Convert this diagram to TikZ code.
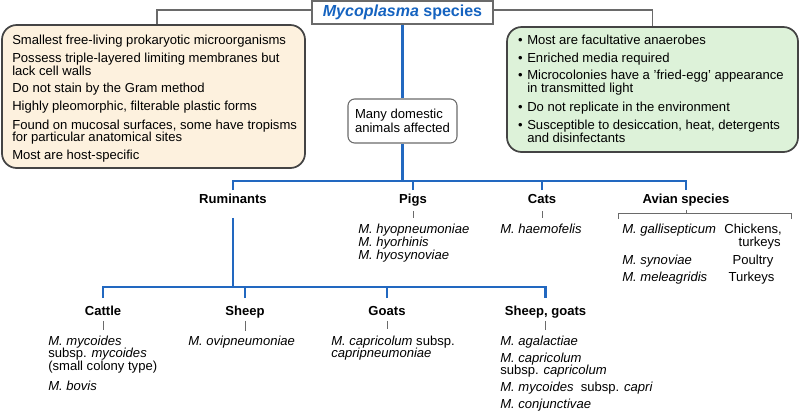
\documentclass[tikz,border=0pt]{standalone}
\usepackage{fontspec}
\setmainfont{Liberation Sans}
\definecolor{peach}{HTML}{FDF1DE}
\definecolor{mint}{HTML}{DDF2D9}
\definecolor{bluel}{HTML}{2268C0}
\definecolor{titleblue}{HTML}{1563C0}
\definecolor{boxedge}{HTML}{444444}
\definecolor{grayline}{HTML}{6A6A6A}
\begin{document}
\begin{tikzpicture}[x=0.75pt,y=-0.75pt,
  txt/.style={anchor=base west, inner sep=0pt, font=\fontsize{9.8}{12}\selectfont},
  txte/.style={anchor=base east, inner sep=0pt, font=\fontsize{9.8}{12}\selectfont},
  txtc/.style={anchor=base, inner sep=0pt, font=\fontsize{9.8}{12}\selectfont},
  bul/.style={anchor=base, inner sep=0pt, font=\fontsize{9.8}{12}\selectfont},
  hlabel/.style={anchor=base, inner sep=0pt, text height=9.75pt, text depth=5.25pt, font=\fontsize{9.8}{12}\selectfont\bfseries},
  llabel/.style={anchor=base, inner sep=0pt, text height=12.75pt, text depth=3.75pt, font=\fontsize{9.8}{12}\selectfont\bfseries},
  lbox/.style={draw=boxedge, line width=1.3pt, fill=peach, rounded corners=11pt},
  gbox/.style={draw=boxedge, line width=1.3pt, fill=mint, rounded corners=11pt},
  mbox/.style={draw=grayline, line width=0.8pt, fill=white, rounded corners=5pt, align=left, inner sep=0pt, font=\fontsize{9.8}{10.1}\selectfont},
  titlebox/.style={draw=grayline, line width=0.8pt, fill=white, inner sep=0pt, font=\fontsize{12}{14}\selectfont\bfseries, text=titleblue},
  bline/.style={draw=bluel, line width=1.6pt},
  gline/.style={draw=grayline, line width=0.8pt},
  tick/.style={draw=grayline, line width=0.6pt}]
\useasboundingbox (0,0) rectangle (800,412);

% boxes
\node[lbox, minimum width=227.25pt, minimum height=107.25pt] (leftbox) at (153.5,96.5) {};
\node[gbox, minimum width=218.25pt, minimum height=93.75pt] (rightbox) at (652.5,89.5) {};
\node[titlebox, minimum width=135.75pt, minimum height=17.25pt] (title) at (402.5,12.5) {\textit{Mycoplasma} species};
\node[mbox, minimum width=81.75pt, minimum height=33pt] (many) at (402.5,121) {Many domestic\\animals affected};

% gray connectors
\draw[gline] ([yshift=1.9pt]title.west) -| ([xshift=2.6pt]leftbox.north);
\draw[gline] ([yshift=1.9pt]title.east) -| (rightbox.north);

% left box text
\node[txt] (L1) at (12,44) {Smallest free-living prokaryotic microorganisms};
\node[txt] (L2) at (12,62) {Possess triple-layered limiting membranes but};
\node[txt] (L3) at (12,75) {lack cell walls};
\node[txt] (L4) at (12,92.5) {Do not stain by the Gram method};
\node[txt] (L5) at (12,110.5) {Highly pleomorphic, filterable plastic forms};
\node[txt] (L6) at (12,129) {Found on mucosal surfaces, some have tropisms};
\node[txt] (L7) at (12,141.5) {for particular anatomical sites};
\node[txt] (L8) at (12,159.5) {Most are host-specific};

% right box text
\node[bul] (B1) at (520.5,44) {•};
\node[bul] (B2) at (520.5,62) {•};
\node[bul] (B3) at (520.5,79.5) {•};
\node[bul] (B4) at (520.5,111) {•};
\node[bul] (B5) at (520.5,129) {•};
\node[txt] (R1) at (527,44) {Most are facultative anaerobes};
\node[txt] (R2) at (527,62) {Enriched media required};
\node[txt] (R3) at (527,79.5) {Microcolonies have a 'fried-egg' appearance};
\node[txt] (R4) at (527,92.5) {in transmitted light};
\node[txt] (R5) at (527,111) {Do not replicate in the environment};
\node[txt] (R6) at (527,129) {Susceptible to desiccation, heat, detergents};
\node[txt] (R7) at (527,142) {and disinfectants};

% upper labels
\node[hlabel, text depth=10.5pt] (rum) at (233,203.5) {Ruminants};
\node[hlabel] (pigs) at (413,203.5) {Pigs};
\node[hlabel] (cats) at (542,203.5) {Cats};
\node[hlabel, text depth=4.5pt] (avian) at (686,203.5) {Avian species};

% blue tree (upper)
\coordinate (bus) at (402.5,181);
\draw[bline] (title.south) -- (many.north);
\draw[bline] (many.south) -- (bus);
\draw[bline] (rum.north) |- (bus) -| (avian.north);
\draw[bline] (pigs.north) -- (pigs.north |- bus);
\draw[bline] (cats.north) -- (cats.north |- bus);

% lower labels
\node[llabel] (cattle) at (103,315.5) {Cattle};
\node[llabel] (sheep) at (245,315.5) {Sheep};
\node[llabel] (goats) at (387,315.5) {Goats};
\node[llabel] (sg) at (545.5,315.5) {Sheep, goats};

\coordinate (rbus) at (233,287);
\draw[bline] (rum.south) -- (rbus);
\draw[bline] (cattle.north) |- (rbus) -| (sg.north);
\draw[bline] (sheep.north) -- (sheep.north |- rbus);
\draw[bline] (goats.north) -- (goats.north |- rbus);

% small gray ticks
\coordinate (pigsT) at (413,218);
\coordinate (catsT) at (542,218);
\coordinate (cattleT) at (103,330);
\coordinate (sheepT) at (245,331);
\coordinate (goatsT) at (387,329);
\coordinate (sgT) at (545.5,330);
\draw[tick] (pigs.south) -- (pigsT);
\draw[tick] (cats.south) -- (catsT);
\draw[tick] (cattle.south) -- (cattleT);
\draw[tick] (sheep.south) -- (sheepT);
\draw[tick] (goats.south) -- (goatsT);
\draw[tick] (sg.south) -- (sgT);

% avian bracket
\coordinate (avB) at (686,213.3);
\coordinate (avL) at (618,218.5);
\coordinate (avR) at (791,218.5);
\draw[tick] (avian.south) -- (avB);
\draw[tick] (avL) -- (avL |- avB) -- (avR |- avB) -- (avR);

% pigs species
\node[txt] (P1) at (358,233) {\textit{M. hyopneumoniae}};
\node[txt] (P2) at (358,246) {\textit{M. hyorhinis}};
\node[txt] (P3) at (358,259) {\textit{M. hyosynoviae}};
% cats
\node[txt] (C1) at (500,233) {\textit{M. haemofelis}};
% avian
\node[txt] (A1) at (622,233) {\textit{M. gallisepticum}};
\node[txte] (A1h) at (782,233) {Chickens,};
\node[txte] (A1h2) at (781,246) {turkeys};
\node[txt] (A2) at (622,264) {\textit{M. synoviae}};
\node[txtc] (A2h) at (753,264) {Poultry};
\node[txt] (A3) at (622,281.5) {\textit{M. meleagridis}};
\node[txtc] (A3h) at (751.5,281.5) {Turkeys};

% cattle species
\node[txt] (K1) at (48,345) {\textit{M. mycoides}};
\node[txt] (K2) at (48,357.5) {subsp. \textit{mycoides}};
\node[txt] (K3) at (48,370.5) {(small colony type)};
\node[txt] (K4) at (48,390) {\textit{M. bovis}};
% sheep
\node[txt] (S1) at (188,345) {\textit{M. ovipneumoniae}};
% goats
\node[txt] (G1) at (331,345) {\textit{M. capricolum} subsp.};
\node[txt] (G2) at (331,357.5) {\textit{capripneumoniae}};
% sheep, goats
\node[txt] (SG1) at (500,345) {\textit{M. agalactiae}};
\node[txt] (SG2) at (500,362) {\textit{M. capricolum}};
\node[txt] (SG3) at (500,374.5) {subsp. \textit{capricolum}};
\node[txt] (SG4) at (500,391.5) {\textit{M. mycoides}\hspace{0.55em}subsp. \textit{capri}};
\node[txt] (SG5) at (500,408.5) {\textit{M. conjunctivae}};
\end{tikzpicture}
\end{document}
